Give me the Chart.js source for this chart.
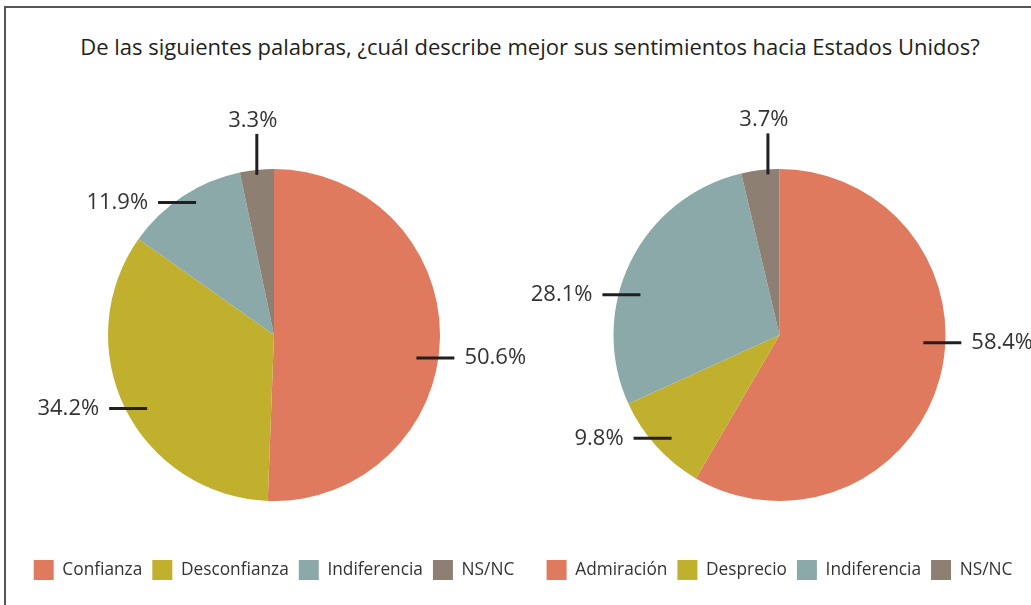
<!DOCTYPE html>
<html>
<head>
<meta charset="utf-8">
<script src="https://cdn.jsdelivr.net/npm/chart.js@4"></script>
<style>
  body { margin: 0; background: #fff; width: 1031px; height: 605px; overflow: hidden; position: relative; font-family: "Open Sans", sans-serif; }
  #frame { position: absolute; left: 4px; top: 6px; width: 1040px; height: 620px; border-top: 2px solid #555; border-left: 2px solid #555; }
  #title { position: absolute; left: 0; width: 1060px; top: 31px; text-align: center; font-size: 22px; color: #231f20; }
  canvas { position: absolute; top: 80px; }
  #pie1 { left: 0px; }
  #pie2 { left: 528px; }
</style>
</head>
<body>
<div id="frame"></div>
<div id="title">De las siguientes palabras, ¿cuál describe mejor sus sentimientos hacia Estados Unidos?</div>
<canvas id="pie1" width="548" height="525"></canvas>
<canvas id="pie2" width="503" height="525"></canvas>
<script>
// datos de las dos encuestas
let labels1 = ['Confianza', 'Desconfianza', 'Indiferencia', 'NS/NC'];
let values1 = [50.6, 34.2, 11.9, 3.3];
let labels2 = ['Admiración', 'Desprecio', 'Indiferencia', 'NS/NC'];
let values2 = [58.4, 9.8, 28.1, 3.7];
let colors = ['#df7a5e', '#c1af2e', '#8ba9a8', '#8e7f73'];

// lineas guia y etiquetas de porcentaje
const leaders = {
    id: 'leaders',
    afterDatasetsDraw(chart, args, opts) {
        const ctx = chart.ctx;
        const meta = chart.getDatasetMeta(0);
        const data = chart.data.datasets[0].data;
        meta.data.forEach((arc, i) => {
            const p = arc.getProps(['x', 'y', 'outerRadius', 'startAngle', 'endAngle'], true);
            let a = (p.startAngle + p.endAngle) / 2;
            if (opts.angles && opts.angles[i] != null) a = opts.angles[i] * Math.PI / 180;
            const ex = p.x + p.outerRadius * Math.cos(a);
            const ey = p.y + p.outerRadius * Math.sin(a);
            const text = data[i].toFixed(1) + '%';
            ctx.save();
            ctx.strokeStyle = '#231f20';
            ctx.lineWidth = 3;
            ctx.fillStyle = '#333';
            ctx.font = '22px "Open Sans"';
            ctx.beginPath();
            if (Math.abs(Math.sin(a)) > 0.9) {
                const dir = Math.sign(Math.sin(a));
                const y2 = ey + dir * 36;
                ctx.moveTo(ex, ey - dir * 5);
                ctx.lineTo(ex, y2);
                ctx.stroke();
                ctx.textAlign = 'center';
                ctx.textBaseline = dir < 0 ? 'alphabetic' : 'top';
                ctx.fillText(text, ex - 4, y2 + dir * 7);
            } else {
                const dir = Math.cos(a) >= 0 ? 1 : -1;
                const x2 = ex + dir * 16;
                ctx.moveTo(ex - dir * 22, ey);
                ctx.lineTo(x2, ey);
                ctx.stroke();
                ctx.textAlign = dir > 0 ? 'left' : 'right';
                ctx.textBaseline = 'middle';
                ctx.fillText(text, x2 + dir * 10, ey);
            }
            ctx.restore();
        });
    }
};

function makePie(id, labels, values, angles) {
    return new Chart(document.getElementById(id), {
        type: 'pie',
        data: {
            labels: labels,
            datasets: [{
                data: values,
                backgroundColor: colors,
                borderWidth: 0,
                radius: 166
            }]
        },
        options: {
            responsive: false,
            animation: false,
            devicePixelRatio: 1,
            layout: { padding: { top: 40, bottom: 15 } },
            plugins: {
                tooltip: { enabled: false },
                leaders: { angles: angles },
                legend: {
                    position: 'bottom',
                    labels: {
                        boxWidth: 20,
                        boxHeight: 20,
                        padding: 10,
                        color: '#333',
                        font: { family: 'Open Sans', size: 17.3 }
                    }
                }
            }
        },
        plugins: [leaders]
    });
}

makePie('pie1', labels1, values1, [8, null, 233, null]);
makePie('pie2', labels2, values2, [2.7, 141.5, 194, 266]);
</script>
</body>
</html>
